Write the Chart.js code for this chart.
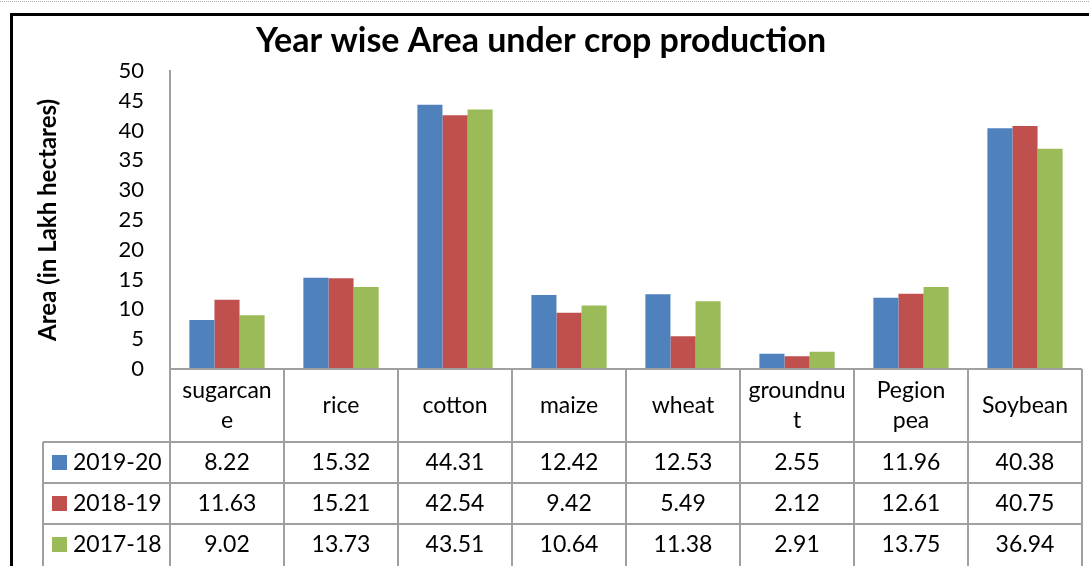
<!DOCTYPE html>
<html>
<head>
    <title>Year wise Area under crop production</title>
    <script src="https://cdn.jsdelivr.net/npm/chart.js@4.4.0/dist/chart.umd.min.js"></script>
    <style>
        body { margin: 0; background: #fff; }
        #cropChart { display: block; }
    </style>
</head>
<body>
    <canvas id="cropChart" width="1089" height="566"></canvas>

    <script>
        // crop names, wrapped the same way as in the table header
        var crops = [['sugarcan', 'e'], ['rice'], ['cotton'], ['maize'], ['wheat'], ['groundnu', 't'], ['Pegion', 'pea'], ['Soybean']];
        var years = ['2019-20', '2018-19', '2017-18'];
        var area2019 = [8.22, 15.32, 44.31, 12.42, 12.53, 2.55, 11.96, 40.38];
        var area2018 = [11.63, 15.21, 42.54, 9.42, 5.49, 2.12, 12.61, 40.75];
        var area2017 = [9.02, 13.73, 43.51, 10.64, 11.38, 2.91, 13.75, 36.94];
        var yMax = 50, yStep = 5;

        var colors = ['#4F81BD', '#C0504D', '#9BBB59'];
        var font = 'Lato';

        //Frame and data table

        var dataTable = {
            id: 'dataTable',
            beforeDraw: function(chart) {
                var ctx = chart.ctx;
                ctx.save();
                ctx.fillStyle = '#fff';
                ctx.fillRect(0, 0, chart.width, chart.height);
                // dotted page line at the very top
                ctx.strokeStyle = '#b0b0b0';
                ctx.lineWidth = 1;
                ctx.setLineDash([1, 1]);
                ctx.beginPath();
                ctx.moveTo(0, 1.5);
                ctx.lineTo(chart.width, 1.5);
                ctx.stroke();
                ctx.setLineDash([]);
                // black outer frame
                ctx.strokeStyle = '#000';
                ctx.lineWidth = 3;
                ctx.beginPath();
                ctx.moveTo(11.5, chart.height);
                ctx.lineTo(11.5, 14.5);
                ctx.lineTo(chart.width, 14.5);
                ctx.stroke();
                ctx.restore();
            },
            afterDraw: function(chart) {
                var ctx = chart.ctx;
                var area = chart.chartArea;
                var colW = (area.right - area.left) / crops.length;
                var top = area.bottom;
                var headH = 73, rowH = 41, legendLeft = 43;
                var rows = [area2019, area2018, area2017];
                var bottom = chart.height + 2;

                ctx.save();
                ctx.strokeStyle = '#a0a0a0';
                ctx.lineWidth = 2;
                ctx.beginPath();
                // header top line
                ctx.moveTo(area.left, top);
                ctx.lineTo(area.right, top);
                // row lines
                for (var r = 0; r < rows.length; r++) {
                    var y = top + headH + r * rowH;
                    ctx.moveTo(legendLeft, y);
                    ctx.lineTo(area.right, y);
                }
                // column lines
                for (var i = 0; i <= crops.length; i++) {
                    var x = area.left + i * colW;
                    ctx.moveTo(x, top);
                    ctx.lineTo(x, bottom);
                }
                ctx.moveTo(legendLeft, top + headH);
                ctx.lineTo(legendLeft, bottom);
                ctx.stroke();

                ctx.fillStyle = '#000';
                ctx.font = '23px ' + font;
                ctx.textAlign = 'center';
                ctx.textBaseline = 'middle';

                // header: crop names
                for (var i = 0; i < crops.length; i++) {
                    var cx = chart.scales.x.getPixelForValue(i);
                    var lines = crops[i];
                    var lineH = 30;
                    var y0 = top + headH / 2 - (lines.length - 1) * lineH / 2;
                    for (var k = 0; k < lines.length; k++) {
                        ctx.fillText(lines[k], cx, y0 + k * lineH);
                    }
                }

                // value rows with legend keys
                for (var r = 0; r < rows.length; r++) {
                    var cy = top + headH + r * rowH + rowH / 2;
                    ctx.fillStyle = colors[r];
                    ctx.fillRect(legendLeft + 9, cy - 7.5, 15, 15);
                    ctx.fillStyle = '#000';
                    ctx.textAlign = 'left';
                    ctx.fillText(years[r], legendLeft + 30, cy);
                    ctx.textAlign = 'center';
                    for (var i = 0; i < crops.length; i++) {
                        ctx.fillText(rows[r][i].toFixed(2), chart.scales.x.getPixelForValue(i), cy);
                    }
                }
                ctx.restore();
            }
        };

        new Chart('cropChart', {
            type: 'bar',
            data: {
                labels: crops,
                datasets: [
                    { label: years[0], data: area2019, backgroundColor: colors[0] },
                    { label: years[1], data: area2018, backgroundColor: colors[1] },
                    { label: years[2], data: area2017, backgroundColor: colors[2] }
                ]
            },
            options: {
                responsive: false,
                animation: false,
                layout: { padding: { left: 0, right: 7, top: 0, bottom: 0 } },
                datasets: { bar: { categoryPercentage: 0.66, barPercentage: 1.0 } },
                plugins: {
                    legend: { display: false },
                    tooltip: { enabled: false },
                    title: {
                        display: true,
                        text: 'Year wise Area under crop production',
                        color: '#000',
                        font: { family: font, size: 34, weight: 'bold' },
                        padding: { top: 21, bottom: 9 }
                    }
                },
                scales: {
                    x: {
                        ticks: { display: false },
                        grid: { display: false },
                        border: { display: false },
                        afterFit: function(scale) { scale.height = 197; }
                    },
                    y: {
                        min: 0,
                        max: yMax,
                        ticks: {
                            stepSize: yStep,
                            color: '#000',
                            padding: 26,
                            font: { family: font, size: 22 }
                        },
                        grid: { display: false, drawTicks: false },
                        border: { display: true, color: '#a0a0a0', width: 2 },
                        title: {
                            display: true,
                            text: 'Area (in Lakh hectares)',
                            color: '#000',
                            font: { family: font, size: 24, weight: 'bold' },
                            padding: { top: 34, bottom: 0 }
                        },
                        afterFit: function(scale) { scale.width = 170; }
                    }
                }
            },
            plugins: [dataTable]
        });
    </script>
</body>
</html>
